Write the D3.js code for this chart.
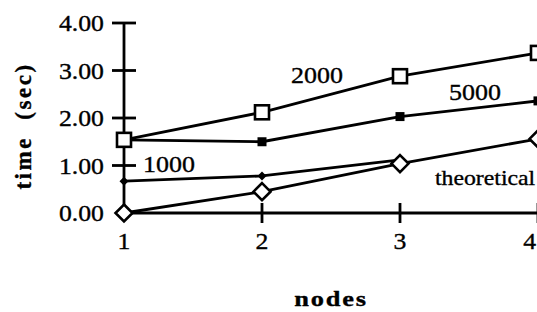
<!DOCTYPE html>
<html><head><meta charset="utf-8">
<script src="https://cdn.jsdelivr.net/npm/d3@7"></script>
<style>
html,body{margin:0;padding:0;background:#fff;}
svg{display:block;}
text{font-family:"Liberation Serif","Times New Roman",serif;fill:#000;stroke:#000;stroke-width:0.35px;}
</style></head>
<body>
<svg id="c" width="537" height="312"></svg>
<script>
const nodes = [1, 2, 3, 4];
const yTicks = [0, 1, 2, 3, 4];
const yTickLabels = ["0.00", "1.00", "2.00", "3.00", "4.00"];
const s2000 = [1.54, 2.12, 2.88, 3.37];
const s5000 = [1.54, 1.50, 2.03, 2.36];
const s1000 = [0.67, 0.78, 1.12];
const sTheoretical = [0.0, 0.45, 1.04, 1.56];
const seriesLabels = ["2000", "5000", "1000", "theoretical"];

const svg = d3.select("#c");
const x = d3.scaleLinear().domain([1, 4]).range([124, 538]);
const y = d3.scaleLinear().domain([0, 4]).range([213, 23]);
const sw = 2.8;

function txt(px, py, str, opts) {
  const g = svg.append("g").attr("transform", `translate(${px},${py}) scale(${opts.sx || 1},1)`);
  return g.append("text").attr("text-anchor", opts.anchor || "start")
    .attr("font-size", opts.size).attr("font-weight", opts.weight || "normal")
    .attr("letter-spacing", opts.ls || 0).text(str);
}

// Y axis
svg.append("line").attr("x1", x(1)).attr("x2", x(1)).attr("y1", y(4)).attr("y2", y(0))
  .attr("stroke", "#000").attr("stroke-width", sw);
yTicks.forEach((t, i) => {
  if (t > 0) svg.append("line").attr("x1", x(1) - 12).attr("x2", x(1) + 12).attr("y1", y(t)).attr("y2", y(t))
    .attr("stroke", "#000").attr("stroke-width", sw);
  txt(104, y(t) + 8, yTickLabels[i], {size: 23, sx: 1.12, anchor: "end"});
});
// X axis
svg.append("line").attr("x1", x(1)).attr("x2", x(4)).attr("y1", y(0)).attr("y2", y(0))
  .attr("stroke", "#000").attr("stroke-width", sw);
nodes.forEach(n => {
  if (n > 1) svg.append("line").attr("x1", x(n)).attr("x2", x(n)).attr("y1", y(0) - 10).attr("y2", y(0) + 10)
    .attr("stroke", "#000").attr("stroke-width", sw);
  const px = n === 4 ? 536 : x(n);
  txt(px, 249, String(n), {size: 23, sx: 1.12, anchor: n === 4 ? "end" : "middle"});
});

// Axis titles
txt(331, 306, "nodes", {size: 22, sx: 1.2, weight: "bold", anchor: "middle", ls: 1.5});
svg.append("text").attr("transform", "translate(31,126) rotate(-90)").attr("text-anchor", "middle")
  .attr("font-size", 23).attr("font-weight", "bold").attr("letter-spacing", 2.5)
  .attr("xml:space", "preserve").style("white-space", "pre").text("time  (sec)");

const line = d3.line().x((d, i) => x(nodes[i])).y(d => y(d));
function drawLine(data) {
  svg.append("path").attr("d", line(data)).attr("fill", "none")
    .attr("stroke", "#000").attr("stroke-width", sw);
}
drawLine(s1000);
drawLine(sTheoretical);
drawLine(s5000);
drawLine(s2000);

// markers
s1000.forEach((v, i) => {
  svg.append("path").attr("transform", `translate(${x(nodes[i])},${y(v)}) rotate(45)`)
    .attr("d", "M-3.2,-3.2H3.2V3.2H-3.2Z").attr("fill", "#000");
});
s5000.forEach((v, i) => {
  if (i === 0) return;
  svg.append("rect").attr("x", x(nodes[i]) - 4.5).attr("y", y(v) - 4.5).attr("width", 9).attr("height", 9).attr("fill", "#000");
});
sTheoretical.forEach((v, i) => {
  svg.append("path").attr("transform", `translate(${x(nodes[i])},${y(v)})`)
    .attr("d", "M0,-8.5L8.5,0L0,8.5L-8.5,0Z").attr("fill", "#fff").attr("stroke", "#000").attr("stroke-width", 2.6);
});
s2000.forEach((v, i) => {
  svg.append("rect").attr("x", x(nodes[i]) - 7).attr("y", y(v) - 7).attr("width", 14).attr("height", 14)
    .attr("fill", "#fff").attr("stroke", "#000").attr("stroke-width", 2.6);
});

// series labels
const labelPos = [[291, 83], [449, 100], [143, 172], [435, 185]];
seriesLabels.forEach((t, i) => {
  txt(labelPos[i][0], labelPos[i][1], t, {size: i === 3 ? 22 : 23, sx: i === 3 ? 1.08 : 1.13});
});
</script>
</body></html>
